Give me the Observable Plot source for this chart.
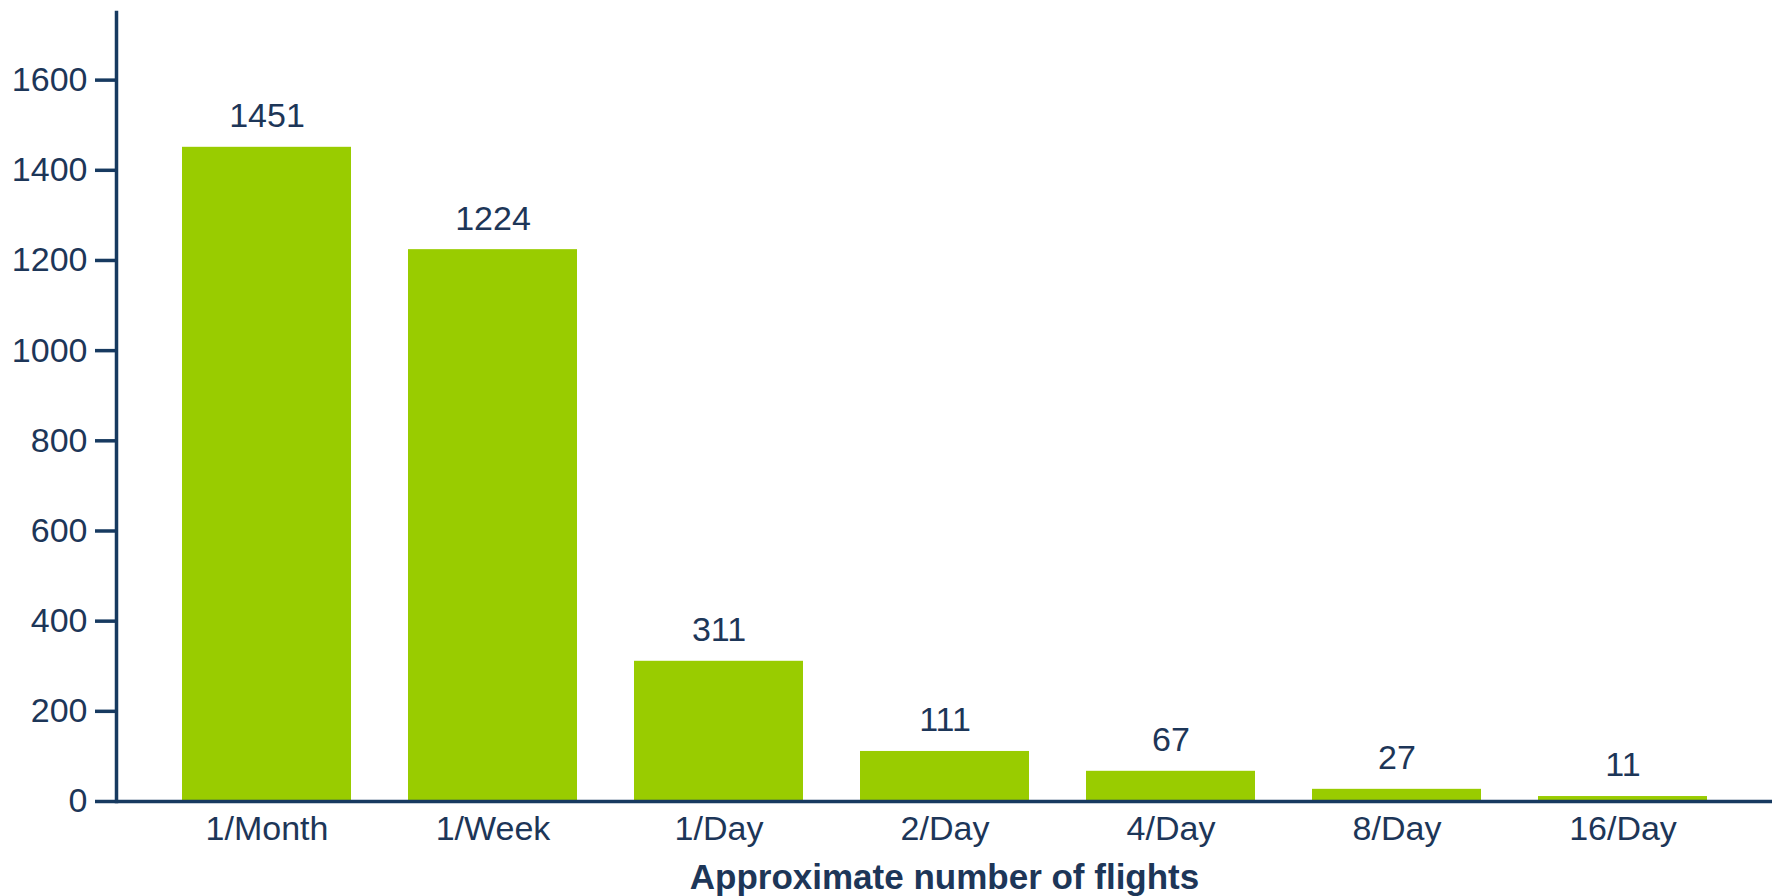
<!DOCTYPE html>
<html>
<head>
<meta charset="utf-8">
<script src="https://cdn.jsdelivr.net/npm/d3@7"></script>
<script src="https://cdn.jsdelivr.net/npm/@observablehq/plot@0.6"></script>
<style>
  html, body { margin: 0; padding: 0; background: #ffffff; }
  #chart svg { display: block; }
</style>
</head>
<body>
<div id="chart"></div>
<script>
const categories = ["1/Month", "1/Week", "1/Day", "2/Day", "4/Day", "8/Day", "16/Day"];
const counts = [1451, 1224, 311, 111, 67, 27, 11];
const yTicks = [0, 200, 400, 600, 800, 1000, 1200, 1400, 1600];
const xTitle = "Approximate number of flights";

const data = categories.map((c, i) => ({category: c, count: counts[i]}));

const ink = "#1d3658";
const axisColor = "#173a60";
const barColor = "#99cc00";

const chart = Plot.plot({
  width: 1779,
  height: 896,
  marginLeft: 116,
  marginRight: 7,
  marginTop: 12,
  marginBottom: 95,
  style: {fontFamily: "Liberation Sans, Arial, sans-serif", color: ink, background: "#ffffff"},
  x: {domain: categories, paddingInner: 0.254, paddingOuter: 0.28},
  y: {domain: [0, 1750]},
  marks: [
    Plot.barY(data, {x: "category", y: "count", fill: barColor}),
    Plot.text(data, {x: "category", y: "count", text: d => String(d.count), lineAnchor: "middle", dy: -31, fontSize: 34, fill: ink}),
    Plot.axisY({ticks: yTicks, tickFormat: d => String(d), tickSize: 21, tickPadding: 8, fontSize: 34, stroke: axisColor, strokeWidth: 3.5, fill: ink, label: null}),
    Plot.axisX({tickSize: 0, tickPadding: 14, fontSize: 34, fill: ink, label: null}),
    Plot.frame({anchor: "left", stroke: axisColor, strokeWidth: 3.5}),
    Plot.ruleY([0], {stroke: axisColor, strokeWidth: 3.5}),
    Plot.text([xTitle], {frameAnchor: "bottom", dy: 76, lineAnchor: "middle", fontSize: 35, fontWeight: "bold", fill: ink})
  ]
});
document.getElementById("chart").appendChild(chart);
</script>
</body>
</html>
